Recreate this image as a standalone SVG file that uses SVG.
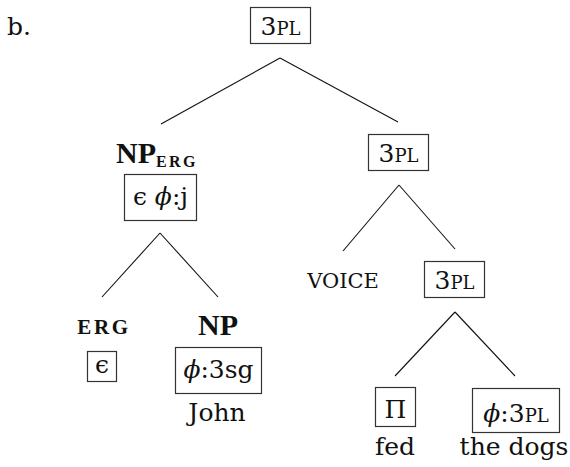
<svg xmlns="http://www.w3.org/2000/svg" width="570" height="467" viewBox="0 0 570 467" font-family="DejaVu Serif, serif">
<style>
text{font-size:25px;fill:#111}
.c{text-anchor:middle}
.sc{font-size:18px}
.b{font-weight:bold;font-family:"Liberation Serif","DejaVu Serif",serif}
.big{font-size:30px}
.box{fill:none;stroke:#333;stroke-width:1.2}
.edge{stroke:#111;stroke-width:1.1;fill:none}
.m{font-style:italic}
</style>
<rect width="570" height="467" fill="#fff"/>
<text x="7" y="35" font-size="26">b.</text>
<g id="connectors">
<line class="edge" x1="280" y1="58" x2="161" y2="124"/>
<line class="edge" x1="280" y1="58" x2="398" y2="122"/>
<line class="edge" x1="160" y1="233" x2="102" y2="297"/>
<line class="edge" x1="160" y1="233" x2="218" y2="297"/>
<line class="edge" x1="399" y1="185" x2="343" y2="251"/>
<line class="edge" x1="399" y1="185" x2="455" y2="249"/>
<line class="edge" x1="455" y1="312" x2="395" y2="376"/>
<line class="edge" x1="455" y1="312" x2="515" y2="376"/>
</g>
<g id="root">
<rect class="box" x="250.5" y="7.5" width="60" height="36"/>
<text class="c" x="280.5" y="35">3<tspan class="sc">PL</tspan></text>
</g>
<g id="np-erg">
<text class="b big" x="116" y="163">NP<tspan style="font-size:16px" dy="4" letter-spacing="2.4">ERG</tspan></text>
<rect class="box" x="124.5" y="174.5" width="72" height="46"/>
<text class="c" x="160.5" y="205">ϵ <tspan class="m">ϕ</tspan>:j</text>
</g>
<g id="vp1">
<rect class="box" x="368.5" y="134.5" width="60" height="36"/>
<text class="c" x="398.5" y="162">3<tspan class="sc">PL</tspan></text>
</g>
<g id="erg">
<text class="b c" x="104" y="334" style="font-size:21px" letter-spacing="2.6">ERG</text>
<rect class="box" x="87.5" y="351.5" width="29" height="30"/>
<text class="c" x="102" y="373">ϵ</text>
</g>
<g id="np">
<text class="b big c" x="218" y="335">NP</text>
<rect class="box" x="175.5" y="347.5" width="86" height="46"/>
<text class="c" x="218.5" y="378"><tspan class="m">ϕ</tspan>:3sg</text>
<text class="c" x="217" y="421">John</text>
</g>
<g id="voice">
<text class="c" x="343" y="288" style="font-size:21px">VOICE</text>
</g>
<g id="vp2">
<rect class="box" x="424.5" y="261.5" width="60" height="36"/>
<text class="c" x="454.5" y="289">3<tspan class="sc">PL</tspan></text>
</g>
<g id="fed">
<rect class="box" x="375.5" y="387.5" width="40" height="39"/>
<text class="c" x="395.5" y="418">Π</text>
<text class="c" x="395" y="455">fed</text>
</g>
<g id="dogs">
<rect class="box" x="472.5" y="388.5" width="87" height="44"/>
<text class="c" x="516" y="422"><tspan class="m">ϕ</tspan>:3<tspan class="sc">PL</tspan></text>
<text class="c" x="514" y="455">the dogs</text>
</g>
</svg>
